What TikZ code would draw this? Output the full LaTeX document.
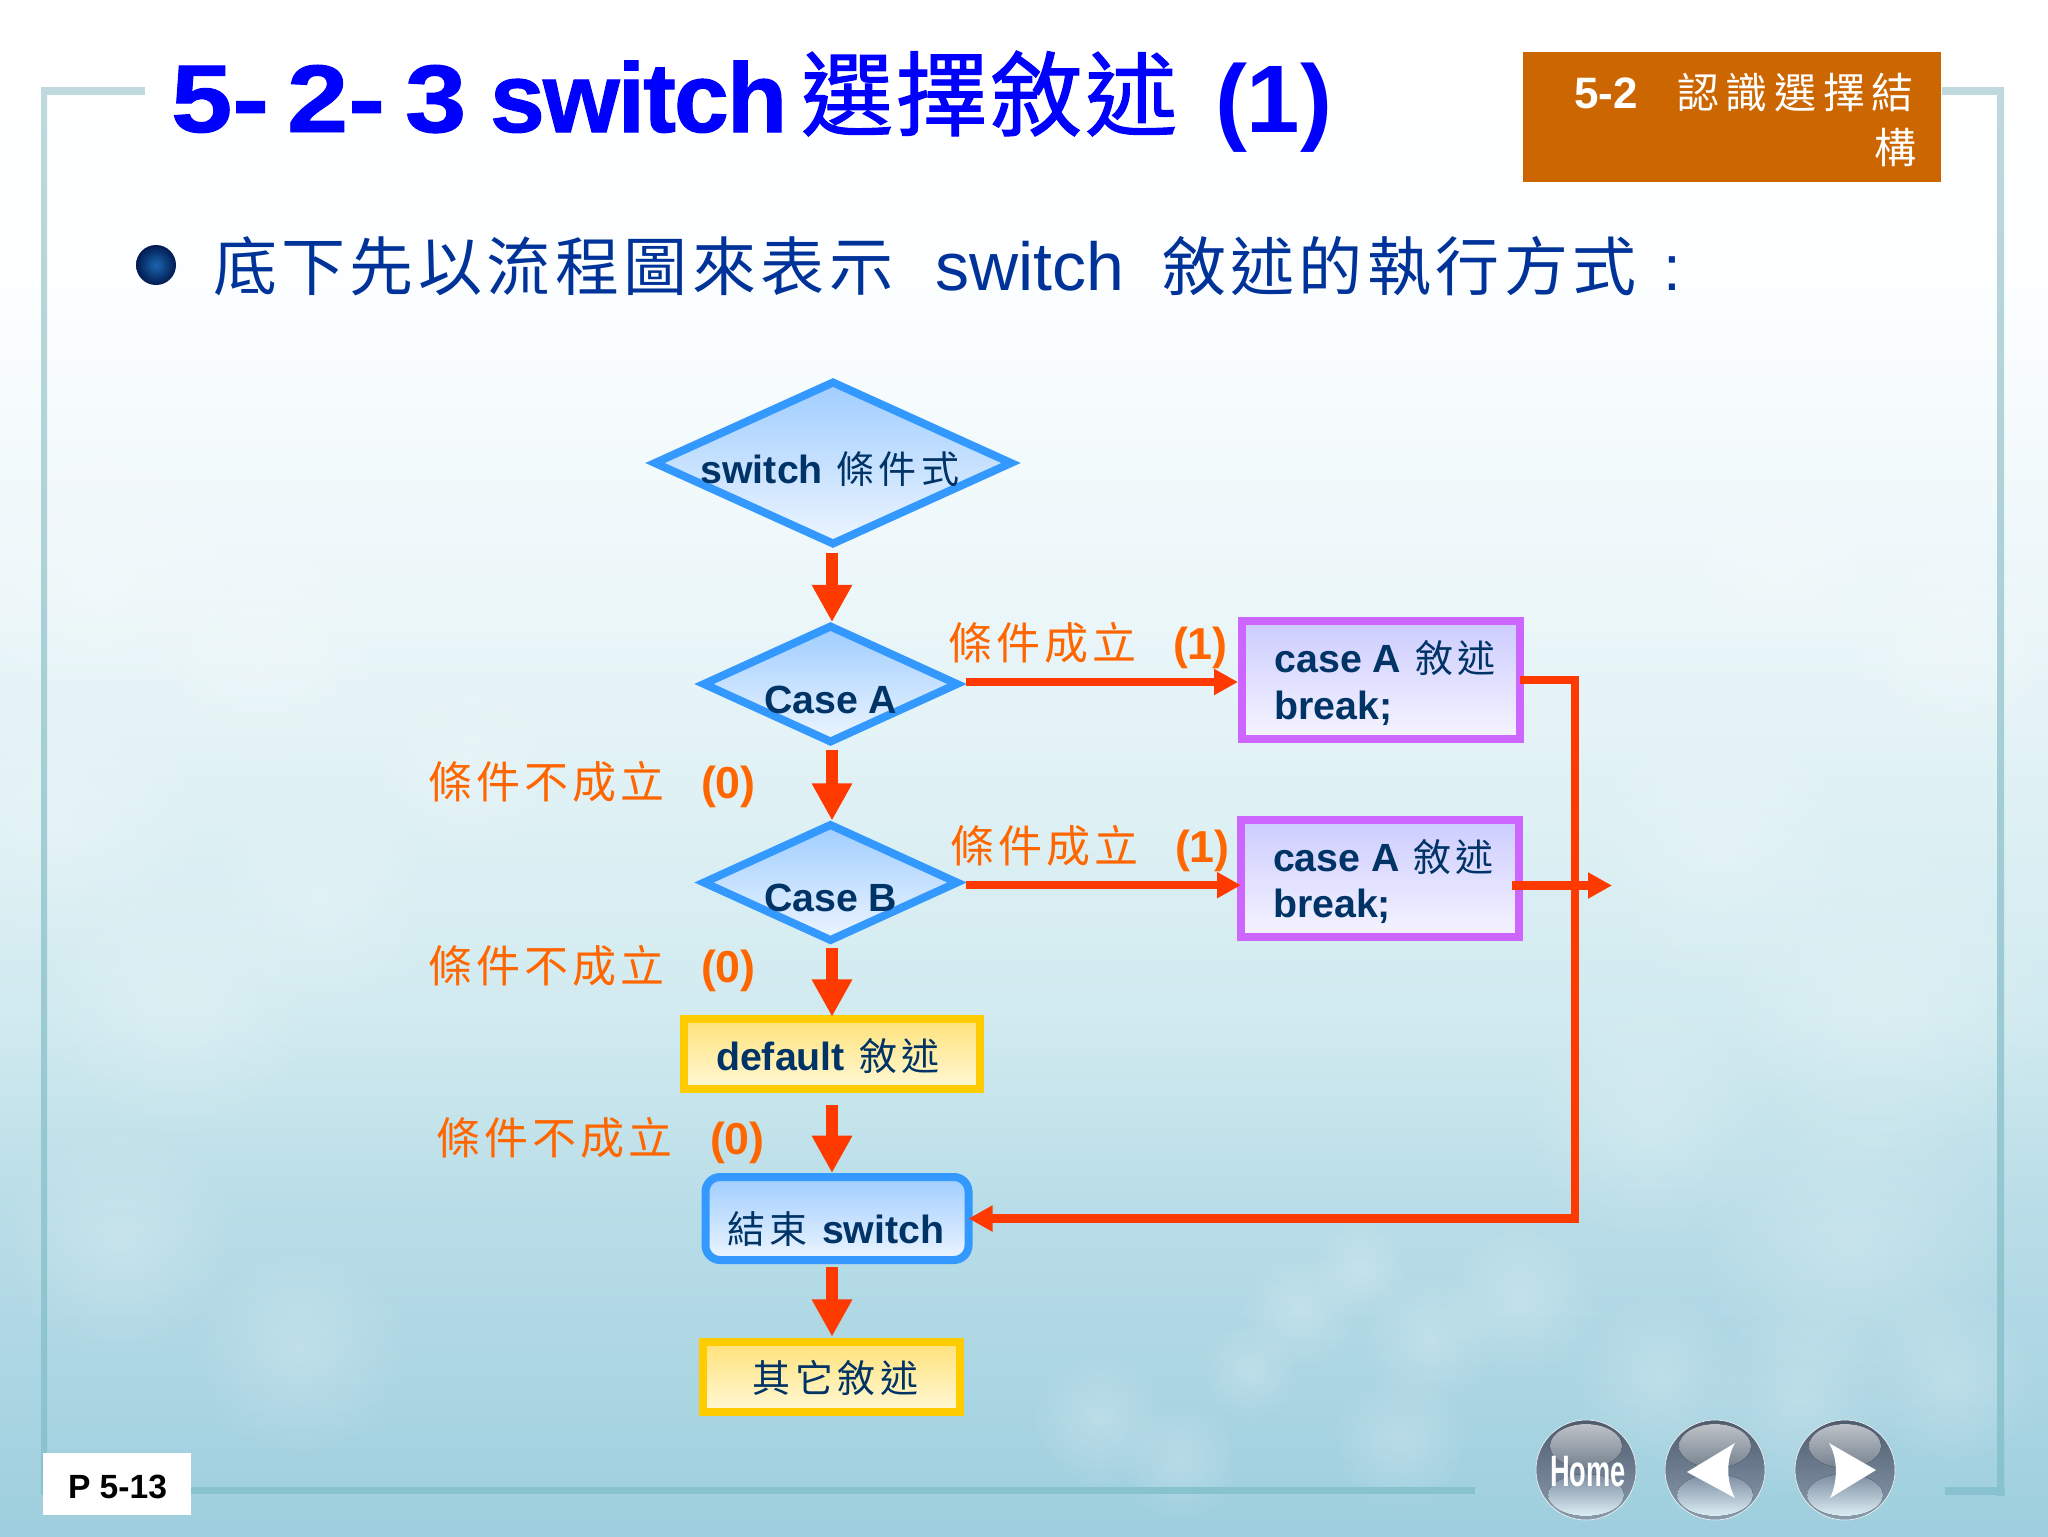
\documentclass[tikz,border=0pt]{standalone}
\usepackage{fontspec}
\usepackage{graphicx}
\setmainfont{Liberation Sans}
\newfontfamily\cjfont{Noto Sans CJK TC}
\usetikzlibrary{shapes.geometric,arrows.meta,fadings}
\definecolor{bluestroke}{HTML}{3399FF}
\definecolor{bluetop}{HTML}{9FCDFF}
\definecolor{bluebot}{HTML}{EDF5FF}
\definecolor{yelstroke}{HTML}{FFCC00}
\definecolor{yeltop}{HTML}{FFE27A}
\definecolor{yelbot}{HTML}{FFF8D6}
\definecolor{purstroke}{HTML}{CC66FF}
\definecolor{purtop}{HTML}{CCCCFF}
\definecolor{purbot}{HTML}{F6F4FF}
\definecolor{flow}{HTML}{FF3A00}
\definecolor{labelor}{HTML}{FF6600}
\definecolor{navy}{HTML}{003366}
\definecolor{subblue}{HTML}{003399}
\definecolor{tabor}{HTML}{CC6600}
\definecolor{frametop}{HTML}{BFD9DC}
\definecolor{framebot}{HTML}{88C2CE}
\definecolor{balltop}{HTML}{4E5C6E}
\definecolor{ballmid}{HTML}{6E7C90}
\definecolor{ballbot}{HTML}{8A9CAC}
\definecolor{glosstop}{HTML}{BEC2C8}
\definecolor{glossbot}{HTML}{75828F}
\definecolor{glowtop}{HTML}{7C8CA0}
\definecolor{glowbot}{HTML}{DCEEF4}
\definecolor{bulletin}{HTML}{1A66AE}
\definecolor{bulletout}{HTML}{021A50}
\pgfdeclareverticalshading{slidebg}{100bp}{%
 rgb(0bp)=(0.62,0.81,0.87);
 rgb(25bp)=(0.62,0.81,0.87);
 rgb(36bp)=(0.73,0.87,0.91);
 rgb(42bp)=(0.82,0.92,0.94);
 rgb(55bp)=(0.92,0.965,0.975);
 rgb(65bp)=(0.985,0.995,1);
 rgb(72bp)=(1,1,1);
 rgb(100bp)=(1,1,1)}
\tikzfading[name=softspot,inner color=transparent!78,outer color=transparent!100]
% text at (dx,dy) pixels from the node centre, without giving the node any size
\newcommand\tx[3]{\makebox[0pt][l]{\hspace*{\dimexpr #1pt*3/4\relax}\smash{\raisebox{\dimexpr -#2pt*3/4\relax}{#3}}}}
\newcommand\cjl[2]{{\cjfont\addfontfeature{LetterSpace=#1}#2}}
\newcommand\boxfont{\fontsize{29.5}{35}\selectfont\bfseries\color{navy}}
\newcommand\cbox[1]{{\fontsize{28.5}{35}\selectfont\mdseries\cjl{12}{#1}}}
\newcommand\lbl[3]{\fontsize{33}{40}\selectfont\color{labelor}\makebox[#2][l]{\cjl{9.5}{#1}}{\fontsize{33.6}{40}\selectfont\textbf{#3}}}
\newcommand\tdigit[1]{{\addfontfeature{FakeStretch=1.15,FakeBold=1}#1}}
\tikzset{
 x=0.75pt,y=-0.75pt,
 wh/.style 2 args={minimum width=#1*0.75pt,minimum height=#2*0.75pt},
 shp/.style={draw,line width=6pt,inner sep=0pt,outer sep=0pt,font=\boxfont,text=navy,line join=miter},
 diam/.style={shp,diamond,draw=bluestroke,top color=bluetop,bottom color=bluebot},
 yelbox/.style={shp,rectangle,draw=yelstroke,top color=yeltop,bottom color=yelbot},
 purbox/.style={shp,rectangle,draw=purstroke,top color=purtop,bottom color=purbot},
 endbox/.style={shp,rectangle,rounded corners=11pt,draw=bluestroke,top color=bluetop,bottom color=bluebot},
 vflow/.style={draw=flow,line width=9pt,-{Triangle[length=28pt,width=28.5pt]}},
 hflow/.style={draw=flow,line width=6.4pt,line join=miter,-{Triangle[length=18pt,width=18.5pt]}},
 cond/.style={anchor=base west,inner sep=0pt,outer sep=0pt},
 framepiece/.style={fill=frametop,draw=none},
}
\newcommand\btn[3]{%
 \node[circle,inner sep=0pt,outer sep=0pt,minimum size=75pt,shading=axis,top color=balltop,bottom color=ballbot,middle color=ballmid,draw=white,line width=.4pt] (#1) at (#2,#3) {};
 \fill[top color=glosstop,bottom color=glossbot] (#2,#3-24) ellipse [x radius=36,y radius=22];
 \fill[top color=glowtop,bottom color=glowbot] (#2,#3+25) ellipse [x radius=38,y radius=21];
}
\begin{document}
\begin{tikzpicture}
\useasboundingbox (0,0) rectangle (2048,1536);
\shade[shading=slidebg] (0,0) rectangle (2048,1536);
% mottled background
\foreach \px/\py/\pr in {100/560/160,260/650/130,60/820/150,320/900/120,180/1000/140,470/760/100,1720/850/140,1880/1000/170,1650/1120/130,1850/1240/160,1300/1310/60,1360/1270/50,1430/1340/70,1520/1300/80,1250/1370/50,1660/1380/90,1800/1400/100,1950/1380/90,120/1240/120,300/1350/110,1100/1420/70,1180/1460/60,1400/1440/70,1960/650/120,1780/560/100}
  \fill[white,path fading=softspot] (\px,\py) circle [radius=\pr];
% slide frame
\fill[top color=frametop,bottom color=framebot] (41,88) rectangle (47,1494);
\fill[framepiece] (41,87) rectangle (145,95);
\fill[top color=frametop,bottom color=framebot] (1997,88) rectangle (2004,1495);
\fill[framepiece] (1942,87) rectangle (2004,95);
\fill[framebot] (180,1487) rectangle (1475,1494);
\fill[framebot] (1945,1487) rectangle (2005,1495);
% title
\node[cond,text=blue] (title) at (171,132) {\fontsize{72}{80}\selectfont\bfseries
 \makebox[87pt][l]{\tdigit{5-}}\makebox[88.5pt][l]{\tdigit{2-}}\makebox[63.75pt][l]{\tdigit{3}}%
 \makebox[233.25pt][l]{\fontsize{74}{80}\selectfont\addfontfeature{LetterSpace=-2,FakeBold=1}switch}%
 \makebox[310.5pt][l]{\raisebox{2.5pt}{\fontsize{69}{80}\selectfont\mdseries\cjfont\addfontfeature{LetterSpace=3,FakeBold=1.2}選擇敘述}}(1)};
% section tab
\node[rectangle,fill=tabor,inner sep=0pt,outer sep=0pt,wh={418}{130},text=white] (tab) at (1732,117)
 {\tx{-158}{-9}{\fontsize{33}{40}\selectfont\bfseries 5-2}\tx{-55}{-9}{\fontsize{31.5}{40}\selectfont\cjl{16}{認識選擇結}}\tx{142}{46}{\fontsize{31.5}{40}\selectfont\cjl{13}{構}}};
% bullet line
\node[circle,inner sep=0pt,outer sep=0pt,minimum size=30pt,inner color=bulletin,outer color=bulletout] (bullet) at (156,265) {};
\node[cond,text=subblue] (sub) at (213,290) {\fontsize{48}{56}\selectfont
 \makebox[541.5pt][l]{\cjl{7}{底下先以流程圖來表示}}\makebox[170.25pt][l]{\fontsize{51}{56}\selectfont switch}%
 \makebox[375.75pt][l]{\cjl{7}{敘述的執行方式}}:};
% flow chart
\coordinate (spine) at (832,0);
\node[diam,wh={356}{161}] (cond) at (833,463)
 {\tx{-132.5}{20}{switch}\tx{3}{20}{\cbox{條件式}}};
\node[diam,wh={253}{115}] (casea) at (830.5,684) {\tx{-66.5}{29}{Case A}};
\node[diam,wh={253}{115}] (caseb) at (830.5,882.5) {\tx{-66.5}{29}{Case B}};
\node[yelbox,wh={296}{70}] (dflt) at (832,1054)
 {\tx{-116}{16}{default}\tx{27}{16}{\cbox{敘述}}};
\node[endbox,wh={263}{83}] (fin) at (837,1218.5)
 {\tx{-110}{25}{\cbox{結束}}\tx{-15}{25}{switch}};
\node[yelbox,wh={257.5}{70}] (other) at (831.5,1376.8)
 {\tx{-79}{16}{\cbox{其它敘述}}};
\node[purbox,wh={278}{117.5}] (boxa) at (1381,680)
 {\tx{-106.5}{-8}{case A}\tx{34}{-8}{\cbox{敘述}}\tx{-106.5}{39}{break;}};
\node[purbox,wh={278}{117.5}] (boxb) at (1380,878.5)
 {\tx{-107}{-7.5}{case A}\tx{33}{-7.5}{\cbox{敘述}}\tx{-107}{39}{break;}};
% connectors
\draw[vflow,shorten <=6.75pt,shorten >=3.3pt] (spine |- cond.south) -- (spine |- casea.north);
\draw[vflow,shorten <=6.4pt,shorten >=3.3pt] (spine |- casea.south) -- (spine |- caseb.north);
\draw[vflow,shorten <=6pt,shorten >=1.7pt] (spine |- caseb.south) -- (spine |- dflt.north);
\draw[vflow,shorten <=11.8pt,shorten >=3pt] (spine |- dflt.south) -- (spine |- fin.north);
\draw[vflow,shorten <=5.25pt,shorten >=3.8pt] (spine |- fin.south) -- (spine |- other.north);
\draw[hflow,shorten <=7pt,shorten >=3pt] ([yshift=1.5pt]casea.east) -- ([yshift=1.5pt]casea.east -| boxa.west);
\draw[hflow,shorten <=7pt] ([yshift=-2pt]caseb.east) -- ([yshift=-2pt]caseb.east -| boxb.west);
\coordinate (rail) at (1575,680);
\coordinate (exit) at (1612,885.5);
\draw[hflow] (boxa.east) -- (rail) -- (rail |- fin.east) -- (fin.east);
\draw[hflow] ([xshift=-5pt,yshift=-5.25pt]boxb.east) -- (exit);
% condition labels
\node[cond] (yes1) at (948,659.5) {\lbl{條件成立}{168.75pt}{(1)}};
\node[cond] (yes2) at (950,862) {\lbl{條件成立}{168.75pt}{(1)}};
\node[cond] (no1) at (428,798) {\lbl{條件不成立}{204.75pt}{(0)}};
\node[cond] (no2) at (428,982) {\lbl{條件不成立}{204.75pt}{(0)}};
\node[cond] (no3) at (436,1154) {\lbl{條件不成立}{205.5pt}{(0)}};
% page number
\node[rectangle,fill=white,inner sep=0pt,outer sep=0pt,wh={148}{62},font=\fontsize{25.2}{30}\selectfont\bfseries] (page) at (117,1484)
 {\tx{-49}{14}{P 5-13}};
% navigation buttons
\btn{home}{1586}{1470}
\node[text=white,inner sep=0pt,font=\fontsize{33}{40}\selectfont\bfseries] (hometxt) at (1588,1472) {\scalebox{.62}[1]{Home}};
\btn{back}{1715}{1470}
\fill[white] (1687,1472) -- (1735,1443) .. controls (1726,1458) and (1726,1482) .. (1735,1498) -- cycle;
\btn{next}{1845}{1470}
\fill[white] (1876,1470) -- (1829,1443) .. controls (1838,1458) and (1838,1482) .. (1830,1498) -- cycle;
\end{tikzpicture}
\end{document}
